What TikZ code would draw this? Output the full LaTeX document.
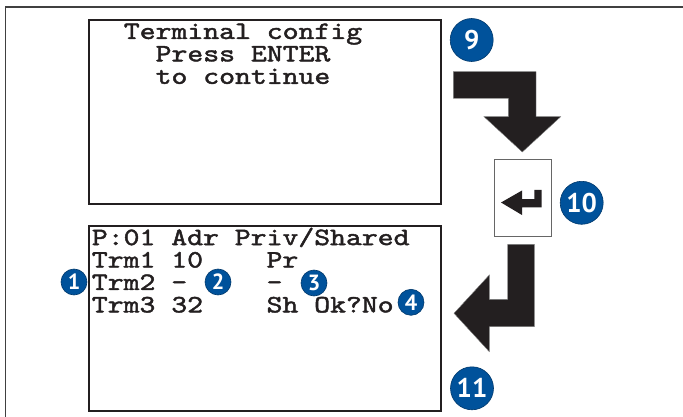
\documentclass[tikz,border=0pt]{standalone}
\usepackage{fontspec}
\usepackage{graphicx}
\newfontfamily\badgeFont{PT Sans}
\newfontfamily\screenMono[FakeBold=1.6]{lmmono10-regular.otf}
\usepackage{tikz}
\usetikzlibrary{positioning}
\definecolor{badgeBlue}{RGB}{0,82,155}
\definecolor{inkBlack}{RGB}{35,31,32}
\newcommand{\screenFont}{\screenMono\fontsize{25}{22.5}\selectfont}
\newcommand{\screenText}[1]{\scalebox{1.21}[1]{#1}}
\newcommand{\lineSkip}{22.45}
\tikzstyle{screenBox}=[draw=inkBlack, line width=2pt, minimum width=352pt, minimum height=184pt, inner sep=0pt]
\tikzstyle{screenLine}=[font=\screenFont, text=inkBlack, inner sep=0pt]
\tikzstyle{badge}=[circle, draw=badgeBlue!70!black, line width=0.6pt, fill=badgeBlue, text=white, inner sep=0pt]
\tikzstyle{bigBadge}=[badge, minimum size=43pt, font=\badgeFont\bfseries\fontsize{27}{27}\selectfont]
\tikzstyle{smallBadge}=[badge, minimum size=26pt, font=\badgeFont\bfseries\fontsize{22}{22}\selectfont]
\tikzstyle{blockArrow}=[fill=inkBlack, draw=gray, line width=0.4pt]
\tikzstyle{keyBox}=[draw=gray!80!black, line width=0.8pt, minimum width=57pt, minimum height=77pt, inner sep=0pt]
\begin{document}
\begin{tikzpicture}[x=1pt, y=-1pt]
    \useasboundingbox (0,0) rectangle (683,417);
    \draw[line width=1.5pt, draw=darkgray] (5.7,417) -- (5.7,7) -- (683,7);
    \node[screenBox] (screenTop) at (265,112) {};
    \node[screenBox, minimum height=185pt] (screenBottom) at (265,318.5) {};
    \foreach \txt [count=\i] in {Terminal config, Press ENTER, to continue}
      \node[screenLine, anchor=base] (topLine\i) at (243, {16.5+\lineSkip*\i}) {\screenText{\txt}};
    \foreach \txt [count=\i] in {P:01 Adr Priv/Shared, Trm1 10~~~~Pr, Trm2 -~~~~~-, Trm3 32~~~~Sh Ok?No}
      \node[screenLine, anchor=base west] (bottomLine\i) at (91.7, {222.6+\lineSkip*\i}) {\screenText{\txt}};
    \node[keyBox] (enterKey) at (523,198) {};
    \fill[inkBlack] (501,202.5) -- (522,190.5) -- (522,199) -- (534.3,199) -- (534.3,190)
      -- (541.7,190) -- (541.7,207.3) -- (522,207.3) -- (522,215) -- cycle;
    \draw[blockArrow] (453.3,71.7) -- (536,71.7) -- (536,116.7) -- (560.7,116.7) -- (522.3,152)
      -- (484,116.7) -- (508.3,116.7) -- (508.3,98.3) -- (453.3,98.3) -- cycle;
    \draw[blockArrow] (507.7,244.3) -- (534.3,244.3) -- (534.3,326.7) -- (489.3,326.7) -- (489.3,351.7)
      -- (454,313.3) -- (489.3,275) -- (489.3,299.3) -- (507.7,299.3) -- cycle;
    \node[bigBadge] (badgeNine) at (471.7,40) {9};
    \node[bigBadge] (badgeTen) at (581.7,202.8) {10};
    \node[bigBadge] (badgeEleven) at (472,388.3) {11};
    \node[smallBadge] (badgeOne) at (74,282) {1};
    \node[smallBadge] (badgeTwo) at (218,282) {2};
    \node[smallBadge] (badgeThree) at (314,283) {3};
    \node[smallBadge] (badgeFour) at (411,302.3) {4};
\end{tikzpicture}
\end{document}
